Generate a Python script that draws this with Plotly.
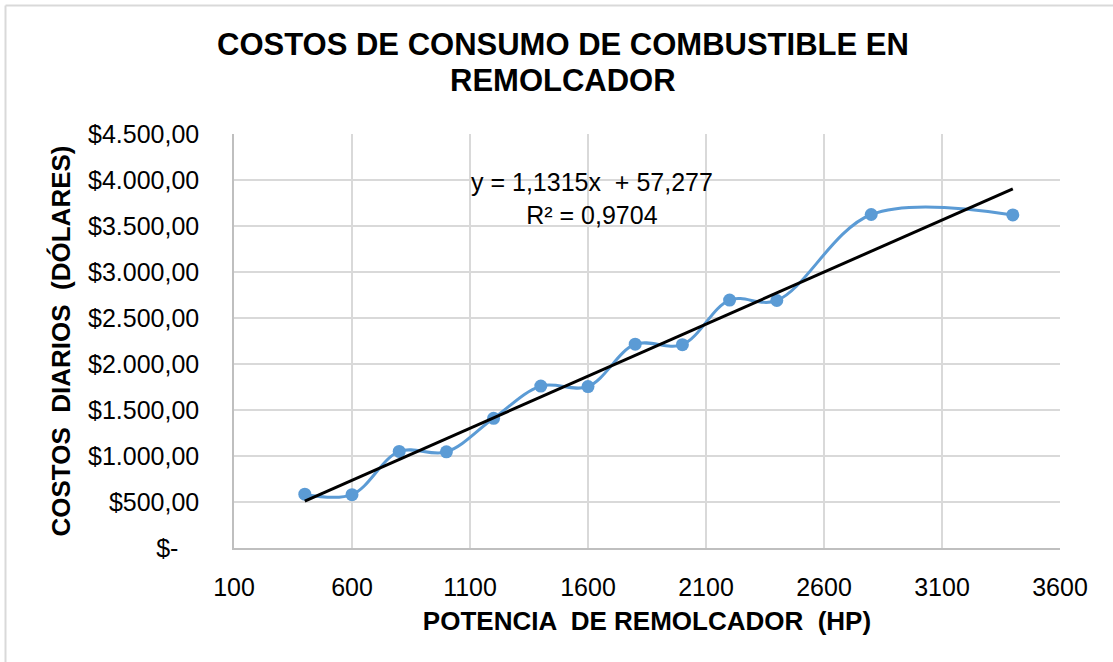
import plotly.graph_objects as go

# Datos
potencia_hp = [400, 600, 800, 1000, 1200, 1400, 1600, 1800, 2000, 2200, 2400, 2800, 3400]
costo_diario = [585, 580, 1050, 1045, 1410, 1760, 1755, 2215, 2210, 2695, 2690, 3625, 3620]

# Línea de tendencia (Excel)
pendiente = 1.1315
intercepto = 57.277
r2 = 0.9704

titulo = ['COSTOS DE CONSUMO DE COMBUSTIBLE EN', 'REMOLCADOR']
y_ticks = [0, 500, 1000, 1500, 2000, 2500, 3000, 3500, 4000, 4500]
y_tick_labels = ['$-\u00a0\u00a0\u00a0', '$500,00', '$1.000,00', '$1.500,00', '$2.000,00',
                 '$2.500,00', '$3.000,00', '$3.500,00', '$4.000,00', '$4.500,00']
x_ticks = [100, 600, 1100, 1600, 2100, 2600, 3100, 3600]

AZUL = '#5B9BD5'
GRIS = '#D9D9D9'
FUENTE = 'Liberation Sans, Arial, sans-serif'

x_tend = [min(potencia_hp), max(potencia_hp)]
y_tend = [pendiente * x + intercepto for x in x_tend]

fig = go.Figure()

fig.add_trace(go.Scatter(
    x=potencia_hp,
    y=costo_diario,
    mode='lines+markers',
    line=dict(color=AZUL, width=3, shape='spline', smoothing=1),
    marker=dict(color=AZUL, size=13),
    showlegend=False
))

fig.add_trace(go.Scatter(
    x=x_tend,
    y=y_tend,
    mode='lines',
    line=dict(color='black', width=3),
    showlegend=False
))

fig.add_annotation(
    x=1617, y=3804,
    text=f'y = {pendiente:.4f}x  + {intercepto:.3f}'.replace('.', ',')
         + f'<br>R² = {r2:.4f}'.replace('.', ','),
    showarrow=False,
    font=dict(family=FUENTE, size=25, color='black'),
    align='center'
)

# Geometría (px)
L, R, T, B = 234, 53, 134, 114
W, H = 1113, 662
pw, ph = W - L - R, H - T - B

# Título en dos líneas
for linea, ypx in zip(titulo, [45, 80]):
    fig.add_annotation(
        xref='paper', yref='paper',
        x=(563 - L) / pw, y=(H - B - ypx) / ph,
        xanchor='center', yanchor='middle',
        text=f'<b>{linea}</b>', showarrow=False,
        font=dict(family=FUENTE, size=31, color='black')
    )

# Borde del área del gráfico (arriba e izquierda)
fig.add_shape(type='line', xref='paper', yref='paper',
              x0=(5.5 - L) / pw, x1=(W - L) / pw,
              y0=(H - B - 5.5) / ph, y1=(H - B - 5.5) / ph,
              line=dict(color=GRIS, width=2))
fig.add_shape(type='line', xref='paper', yref='paper',
              x0=(5.5 - L) / pw, x1=(5.5 - L) / pw,
              y0=(H - B - 5.5) / ph, y1=-B / ph,
              line=dict(color=GRIS, width=2))

fig.update_layout(
    width=W,
    height=H,
    margin=dict(l=L, r=R, t=T, b=B),
    paper_bgcolor='white',
    plot_bgcolor='white',
    font=dict(family=FUENTE, color='black'),
    xaxis=dict(
        range=[100, 3600],
        tickvals=x_ticks,
        tickfont=dict(size=25),
        showgrid=True, gridcolor=GRIS, gridwidth=1.5,
        showline=True, linecolor='#BFBFBF', linewidth=1.5,
        zeroline=False,
        ticklabelstandoff=16,
        title=dict(text='<b>POTENCIA  DE REMOLCADOR  (HP)</b>',
                   font=dict(size=26), standoff=12)
    ),
    yaxis=dict(
        range=[0, 4500],
        tickvals=y_ticks,
        ticktext=y_tick_labels,
        tickfont=dict(size=25),
        showgrid=True, gridcolor=GRIS, gridwidth=1.5,
        showline=True, linecolor='#BFBFBF', linewidth=1.5,
        zeroline=False,
        ticklabelstandoff=28,
        title=dict(text='<b>COSTOS  DIARIOS  (DÓLARES)</b>',
                   font=dict(size=26), standoff=10)
    )
)

fig.write_html('out.html', config={'displayModeBar': False},
               post_script="document.body.style.margin='0';")
